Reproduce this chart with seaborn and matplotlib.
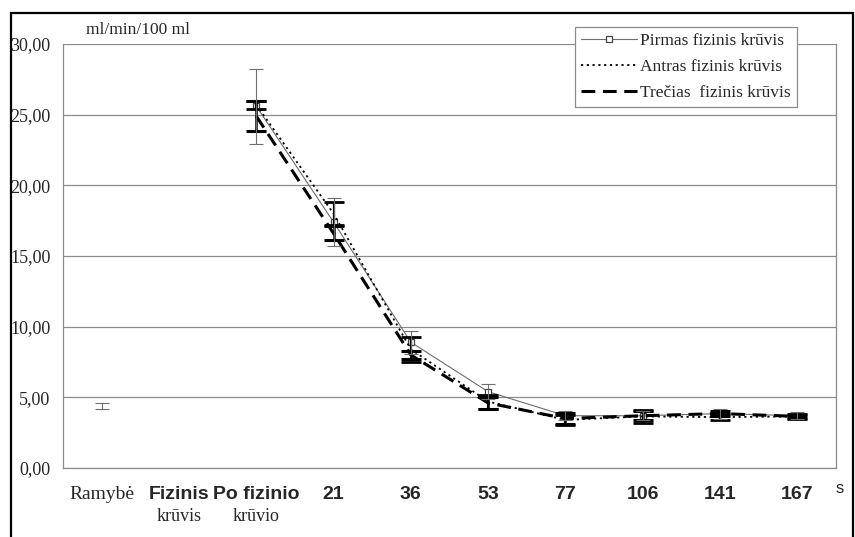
import numpy as np
import pandas as pd
import seaborn as sns
import matplotlib.pyplot as plt
from matplotlib.patches import Rectangle

# Category labels (two lines: bold sans first line, serif second line)
cat_top = ["Ramybė", "Fizinis", "Po fizinio", "21", "36", "53", "77", "106", "141", "167"]
cat_bottom = ["", "krūvis", "krūvio", "", "", "", "", "", "", ""]

# Blood-flow values, ml/min/100 ml (NaN where no measurement)
pirmas = [np.nan, np.nan, 25.6, 17.4, 8.9, 5.4, 3.7, 3.7, 3.85, 3.7]
antras = [np.nan, np.nan, 25.7, 18.0, 8.4, 4.7, 3.4, 3.65, 3.6, 3.65]
trecias = [np.nan, np.nan, 24.9, 16.6, 8.0, 4.6, 3.5, 3.7, 3.85, 3.65]

pirmas_err = [np.nan, np.nan, 2.65, 1.7, 0.8, 0.55, 0.3, 0.3, 0.35, 0.25]
antras_err = [np.nan, np.nan, 0.3, 0.8, 0.9, 0.5, 0.35, 0.45, 0.2, 0.15]
trecias_err = [np.nan, np.nan, 1.05, 0.5, 0.3, 0.4, 0.4, 0.3, 0.2, 0.1]

# Resting value (shown only as an error bar)
ramybe_mean = 4.4
ramybe_err = 0.2

series_names = ["Pirmas fizinis krūvis", "Antras fizinis krūvis", "Trečias  fizinis krūvis"]

x = np.arange(len(cat_top))
df = pd.DataFrame({
    "x": np.tile(x, 3),
    "y": pirmas + antras + trecias,
    "serija": np.repeat(series_names, len(x)),
}).dropna()

sns.set_style("white")
plt.rcParams["font.family"] = ["Liberation Serif", "DejaVu Serif"]

fig = plt.figure(figsize=(8.55, 5.37), dpi=100)
ax = fig.add_axes([63 / 855, 1 - 468 / 537, (836 - 63) / 855, (468 - 44) / 537])

styles = {
    series_names[0]: dict(color="#6e6e6e", lw=0.8, ls="-", marker="s", ms=4,
                          mfc="white", mec="#444444", mew=0.9),
    series_names[1]: dict(color="black", lw=1.3, ls=(0, (1.2, 2.0)), marker=None),
    series_names[2]: dict(color="black", lw=2.2, ls=(0, (4.5, 2.5)), marker=None),
}

for name in series_names:
    st = styles[name]
    sub = df[df["serija"] == name]
    sns.lineplot(data=sub, x="x", y="y", ax=ax, color=st["color"], linewidth=st["lw"],
                 linestyle=st["ls"], marker=st["marker"],
                 markersize=st.get("ms", 0), markerfacecolor=st.get("mfc", "none"),
                 markeredgecolor=st.get("mec", st["color"]),
                 markeredgewidth=st.get("mew", 0), label=name, zorder=3)

# Error bars
ax.errorbar(x, trecias, yerr=trecias_err, fmt="none", ecolor="black", elinewidth=1.8,
            capsize=7, capthick=2.2, zorder=4)
ax.errorbar(x, antras, yerr=antras_err, fmt="none", ecolor="black", elinewidth=1.6,
            capsize=7, capthick=2.0, zorder=4)
ax.errorbar(x, pirmas, yerr=pirmas_err, fmt="none", ecolor="#6e6e6e", elinewidth=0.8,
            capsize=5, capthick=0.8, zorder=5)
ax.errorbar([0], [ramybe_mean], yerr=[ramybe_err], fmt="none", ecolor="#6e6e6e",
            elinewidth=0.8, capsize=5, capthick=0.8, zorder=5)

ax.set_xlim(-0.5, 9.5)
ax.set_ylim(0, 30)
ax.set_yticks(np.arange(0, 31, 5))
ax.set_yticklabels([f"{v:.2f}".replace(".", ",") for v in np.arange(0, 31, 5)],
                   fontsize=13, family=["Liberation Serif"])
ax.yaxis.grid(True, color="#8c8c8c", lw=0.9)
ax.set_axisbelow(True)
ax.set_xticks(np.arange(-0.5, 10, 1))
ax.set_xticklabels([])
ax.tick_params(axis="x", direction="out", length=6, color="#8c8c8c", width=0.9)
ax.tick_params(axis="y", direction="out", length=6, color="#8c8c8c", width=0.9, pad=3)
ax.set_xlabel("")
ax.set_ylabel("")
for sp in ax.spines.values():
    sp.set_color("#8c8c8c")
    sp.set_linewidth(0.9)
ax.spines["top"].set_visible(False)

# Category labels below the axis
for i, (t, b) in enumerate(zip(cat_top, cat_bottom)):
    if i == 0:
        ax.text(i, -0.062, t, transform=ax.get_xaxis_transform(), ha="center", va="center",
                fontsize=14, family=["Liberation Serif"])
    else:
        ax.text(i, -0.062, t, transform=ax.get_xaxis_transform(), ha="center", va="center",
                fontsize=14, fontweight="bold", family=["Liberation Sans"])
    if b:
        ax.text(i, -0.115, b, transform=ax.get_xaxis_transform(), ha="center", va="center",
                fontsize=13, family=["Liberation Serif"])
ax.text(9.5, -0.048, "s", transform=ax.get_xaxis_transform(), ha="left", va="center",
        fontsize=12, family=["Liberation Sans"])

fig.text(86 / 855, 1 - 30 / 537, "ml/min/100 ml", ha="left", va="center", fontsize=12.5,
         family=["Liberation Serif"])

leg = ax.legend(loc="upper right", bbox_to_anchor=(797 / 855, 1 - 27 / 537),
                bbox_transform=fig.transFigure, frameon=True, fancybox=False,
                edgecolor="#8c8c8c", framealpha=1, prop={"family": "Liberation Serif", "size": 12.5},
                handlelength=3.2, handletextpad=0.2, labelspacing=0.55, borderpad=0.35,
                borderaxespad=0)
leg.get_frame().set_linewidth(0.9)

# Outer frame of the figure
fig.patches.append(Rectangle((11 / 855, -0.02), (853 - 11) / 855, 1 - 13 / 537 + 0.02,
                             transform=fig.transFigure, fill=False, edgecolor="black",
                             linewidth=1.6, zorder=10))

fig.savefig("out.png", dpi=100)
